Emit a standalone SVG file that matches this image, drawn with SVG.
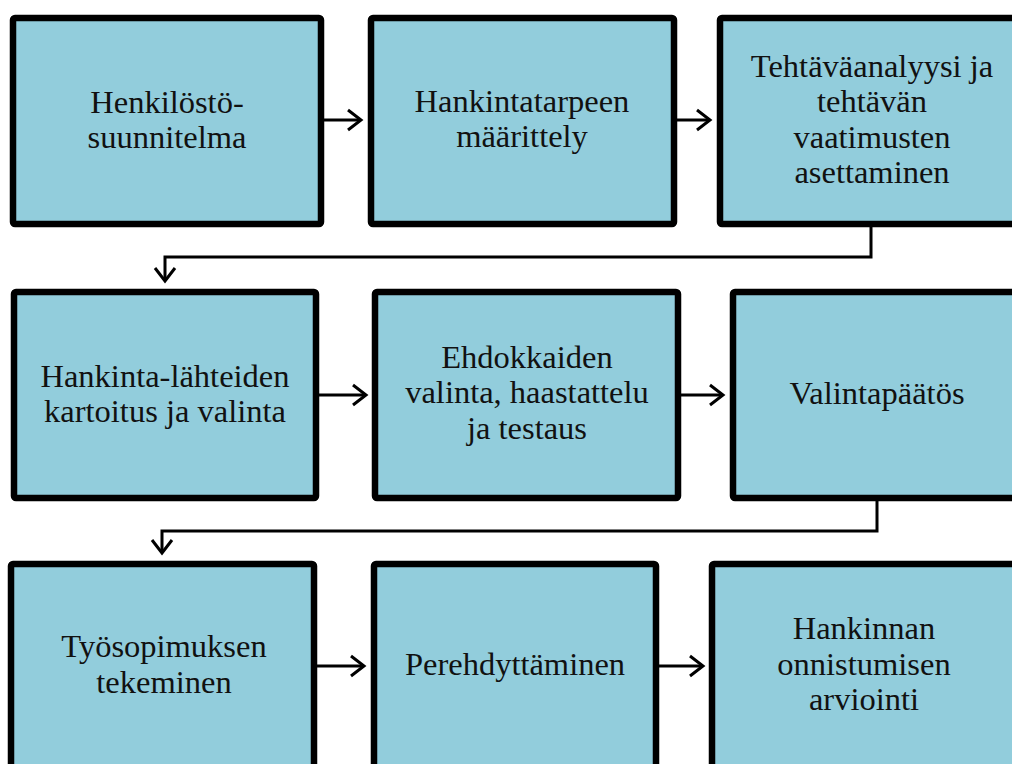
<svg xmlns="http://www.w3.org/2000/svg" width="1012" height="764" viewBox="0 0 1012 764">
<defs>
<style>
.box{fill:#92CDDC;stroke:#000;stroke-width:6.5}
.t{font-family:"Liberation Serif","Times New Roman",serif;font-size:32.5px;fill:#111;text-anchor:middle}
.c{fill:none;stroke:#000;stroke-width:3}
</style>
<marker id="ah" markerUnits="userSpaceOnUse" markerWidth="30" markerHeight="30" viewBox="-20 -15 30 30" refX="0" refY="0" orient="auto">
<path d="M-13,-10 L0,0 L-13,10" fill="none" stroke="#000" stroke-width="3"/>
</marker>
</defs>
<rect width="1012" height="764" fill="#fff"/>
<g id="n1"><rect class="box" x="13" y="18" width="308" height="206" rx="2"/><text class="t" x="167" y="113">Henkilöstö-</text><text class="t" x="167" y="148">suunnitelma</text></g>
<g id="n2"><rect class="box" x="371" y="18" width="303" height="206" rx="2"/><text class="t" x="522" y="112">Hankintatarpeen</text><text class="t" x="522" y="147">määrittely</text></g>
<g id="n3"><rect class="box" x="720" y="18" width="330" height="206" rx="2"/><text class="t" x="872" y="77">Tehtäväanalyysi ja</text><text class="t" x="872" y="112">tehtävän</text><text class="t" x="872" y="148">vaatimusten</text><text class="t" x="872" y="183">asettaminen</text></g>
<g id="n4"><rect class="box" x="14" y="292" width="302" height="206" rx="2"/><text class="t" x="165" y="387">Hankinta-lähteiden</text><text class="t" x="165" y="422">kartoitus ja valinta</text></g>
<g id="n5"><rect class="box" x="375" y="292" width="303" height="206" rx="2"/><text class="t" x="527" y="368">Ehdokkaiden</text><text class="t" x="527" y="403">valinta, haastattelu</text><text class="t" x="527" y="439">ja testaus</text></g>
<g id="n6"><rect class="box" x="733" y="292" width="330" height="206" rx="2"/><text class="t" x="877" y="404">Valintapäätös</text></g>
<g id="n7"><rect class="box" x="11" y="564" width="303" height="230" rx="2"/><text class="t" x="164" y="657">Työsopimuksen</text><text class="t" x="164" y="693">tekeminen</text></g>
<g id="n8"><rect class="box" x="374" y="564" width="282" height="230" rx="2"/><text class="t" x="515" y="675">Perehdyttäminen</text></g>
<g id="n9"><rect class="box" x="712" y="564" width="330" height="230" rx="2"/><text class="t" x="864" y="639">Hankinnan</text><text class="t" x="864" y="675">onnistumisen</text><text class="t" x="864" y="710">arviointi</text></g>
<g id="connectors">
<path class="c" d="M324,120 H361" marker-end="url(#ah)"/>
<path class="c" d="M677,120 H710" marker-end="url(#ah)"/>
<path class="c" d="M871,227 V257 H165 V281" marker-end="url(#ah)"/>
<path class="c" d="M319,395 H366" marker-end="url(#ah)"/>
<path class="c" d="M681,395 H723" marker-end="url(#ah)"/>
<path class="c" d="M877,501 V531 H162 V553" marker-end="url(#ah)"/>
<path class="c" d="M317,666 H364" marker-end="url(#ah)"/>
<path class="c" d="M659,666 H703" marker-end="url(#ah)"/>
</g>
</svg>
